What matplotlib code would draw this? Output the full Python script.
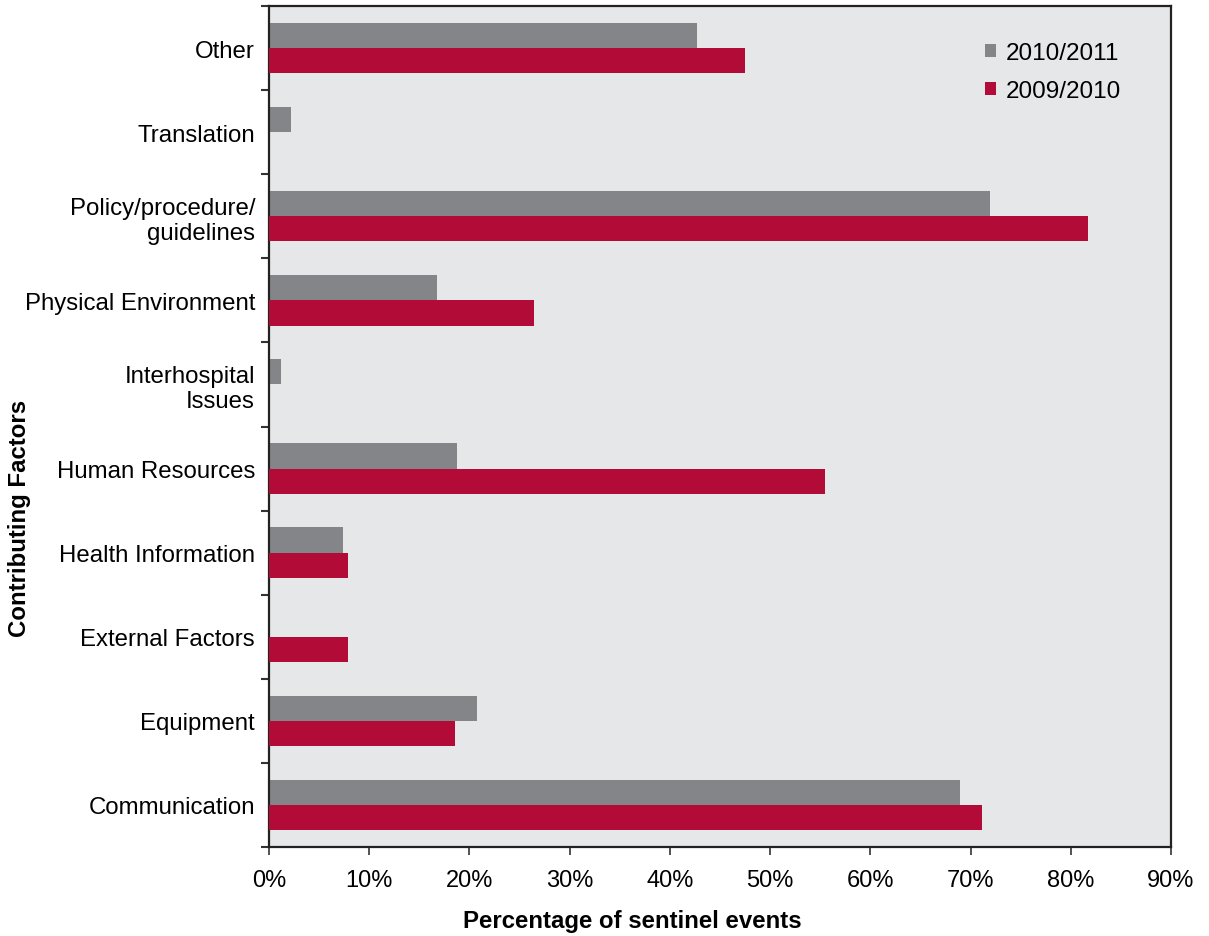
import matplotlib
matplotlib.use("Agg")
import matplotlib.pyplot as plt
import numpy as np

plt.rcParams['font.family'] = ['Liberation Sans', 'DejaVu Sans']

categories = ["Communication", "Equipment", "External Factors", "Health Information",
              "Human Resources", "Interhospital\nIssues", "Physical Environment",
              "Policy/procedure/\nguidelines", "Translation", "Other"]
series_2010_2011 = [68.9, 20.8, 0.0, 7.4, 18.8, 1.2, 16.8, 71.9, 2.2, 42.7]
series_2009_2010 = [71.1, 18.6, 7.9, 7.9, 55.5, 0.0, 26.4, 81.7, 0.0, 47.5]
xticks = [0, 10, 20, 30, 40, 50, 60, 70, 80, 90]

gray = "#838588"
red = "#B20B37"
bg = "#E6E7E9"

fig = plt.figure(figsize=(12.09, 9.37), dpi=100)
ax = fig.add_axes([269/1209, 1-848/937, (1171-269)/1209, (848-7)/937])
ax.set_facecolor(bg)

y = np.arange(len(categories))
h = 0.3
b1 = ax.barh(y + h/2, series_2010_2011, height=h, color=gray, label="2010/2011", zorder=2)
b2 = ax.barh(y - h/2, series_2009_2010, height=h, color=red, label="2009/2010", zorder=3)

ax.set_xlim(0, 90)
ax.set_ylim(-0.5, len(categories) - 0.5)
ax.set_xticks(xticks)
ax.set_xticklabels([f"{v}%" for v in xticks])
ax.set_yticks(y)
ax.set_yticklabels(categories, ha='right', multialignment='right')
ax.set_yticks(np.arange(-0.5, len(categories), 1.0), minor=True)
ax.tick_params(axis='y', which='major', length=0, pad=10, labelsize=17.3)
ax.tick_params(axis='y', which='minor', length=6, width=1.5, direction='out', color='#333333')
ax.tick_params(axis='x', which='major', length=6, width=1.2, direction='out', pad=10,
               labelsize=17, color='#333333')

for s in ax.spines.values():
    s.set_linewidth(1.6)
    s.set_color('#222222')

fig.text(632/1209, 1-922/937, "Percentage of sentinel events", fontsize=17.3,
         fontweight='bold', ha='center', va='center')
fig.text(20/1209, 1-518/937, "Contributing Factors", rotation=90, fontsize=17.3,
         fontweight='bold', ha='center', va='center')

leg = ax.legend(handles=[b1, b2], loc='upper left', bbox_to_anchor=(985/1209, 1-43/937),
                bbox_transform=fig.transFigure, frameon=False, fontsize=17.5,
                handlelength=0.45, handleheight=0.45, handletextpad=0.4, labelspacing=0.65,
                borderaxespad=0, borderpad=0)

fig.savefig("out.png", dpi=100)
